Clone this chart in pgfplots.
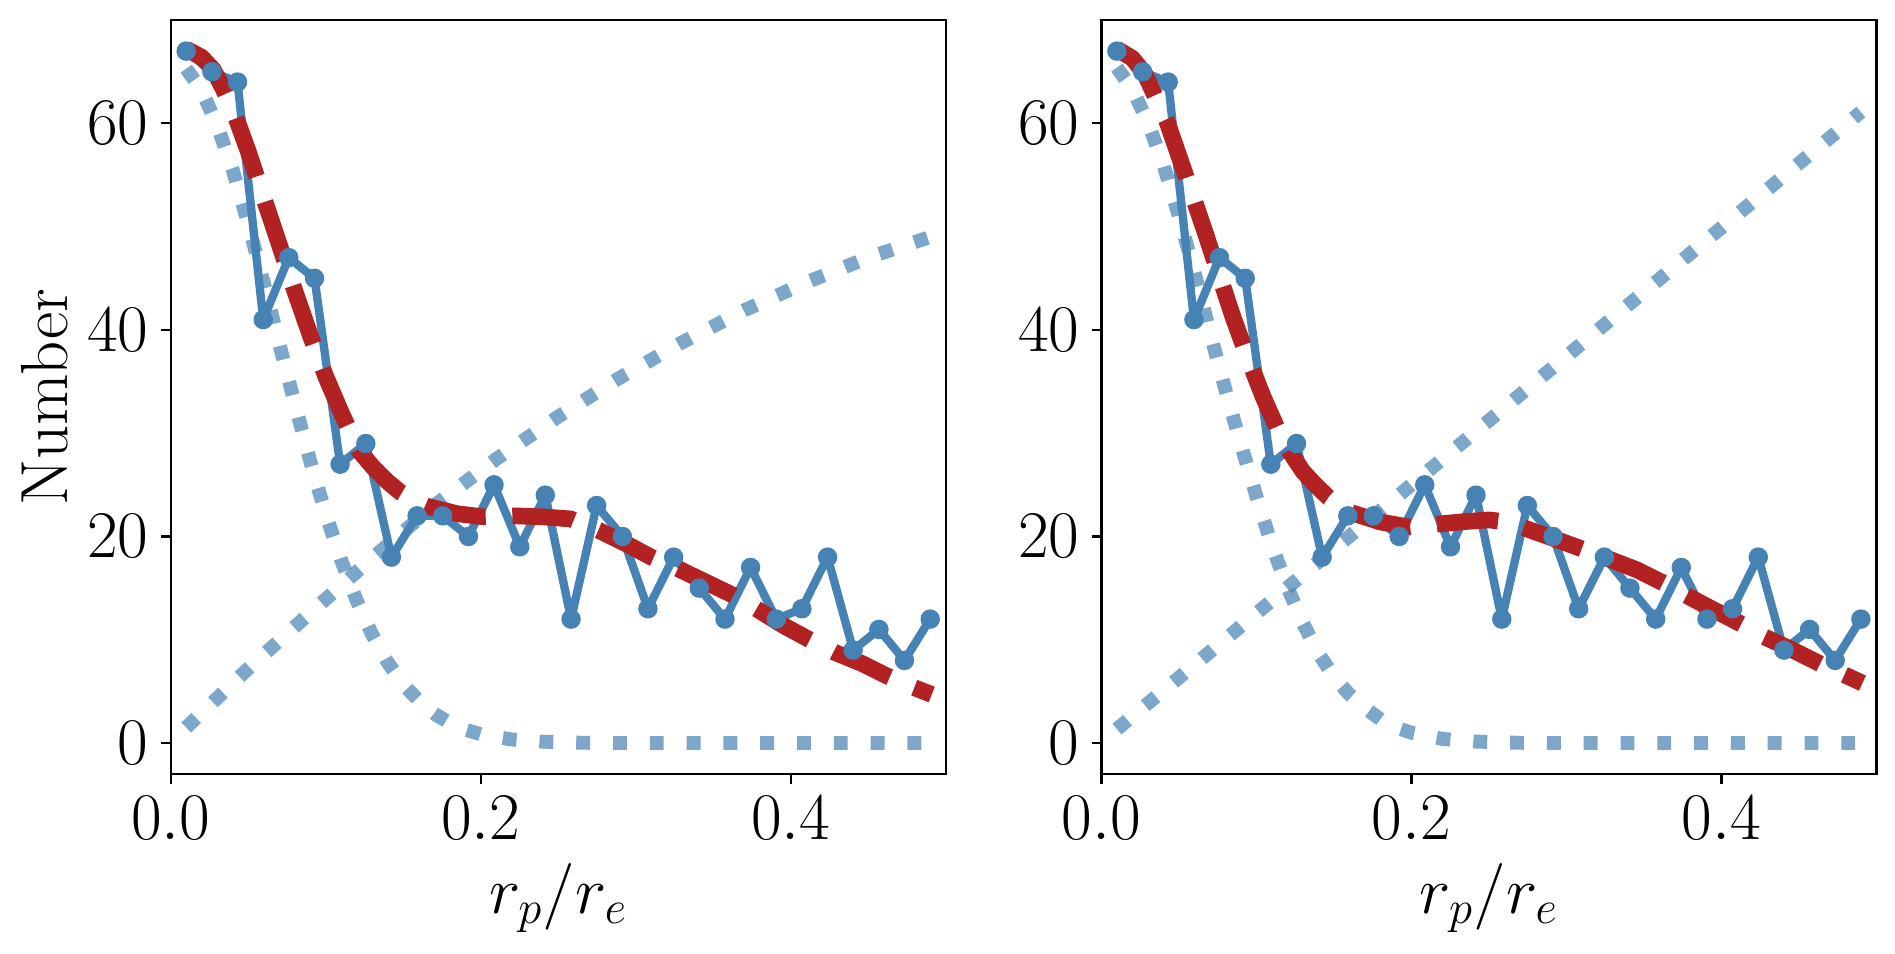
\RequirePackage{fix-cm}
\documentclass[border=0pt]{standalone}
\usepackage{pgfplots}
\usepackage{pgfplotstable}
\pgfplotsset{compat=1.18}

\definecolor{steel}{RGB}{70,130,180}
\definecolor{fire}{RGB}{178,34,34}

% counts per bin (same data in both panels)
\pgfplotstableread{
x      y
0.0100 67
0.0266 65
0.0431 64
0.0597 41
0.0762 47
0.0928 45
0.1093 27
0.1259 29
0.1424 18
0.1590 22
0.1755 22
0.1921 20
0.2086 25
0.2252 19
0.2417 24
0.2583 12
0.2748 23
0.2914 20
0.3079 13
0.3245 18
0.3410 15
0.3576 12
0.3741 17
0.3907 12
0.4072 13
0.4238 18
0.4403 9
0.4569 11
0.4734 8
0.4900 12
}\counts

% left panel: fitted total (red) and the two components (dotted)
\pgfplotstableread{
x     y
0.010 67.2
0.020 66.4
0.0275 65.2
0.034 63.3
0.042 60.6
0.050 57.3
0.060 52.8
0.070 48.3
0.080 43.8
0.090 39.5
0.100 35.5
0.110 32.0
0.121 28.4
0.130 26.8
0.140 25.3
0.148 24.3
0.157 23.5
0.166 22.9
0.185 22.2
0.202 21.9
0.222 22.0
0.240 21.9
0.258 21.7
0.276 20.6
0.295 19.2
0.310 18.0
0.327 16.9
0.345 15.6
0.363 14.3
0.380 12.8
0.395 11.4
0.411 10.1
0.428 8.8
0.446 7.7
0.462 6.5
0.479 5.4
0.491 4.7
}\fitA

\pgfplotstableread{
x    y
0.01 65.3
0.02 63.2
0.03 59.8
0.04 55.5
0.05 50.3
0.06 44.6
0.07 38.7
0.08 32.9
0.09 27.3
0.10 22.2
0.11 17.7
0.12 13.8
0.13 10.5
0.14 7.8
0.15 5.7
0.16 4.1
0.17 2.85
0.18 1.95
0.19 1.3
0.20 0.85
0.22 0.34
0.24 0.13
0.26 0.04
0.28 0.0
0.49 0.0
}\decA

\pgfplotstableread{
x    y
0.01 1.5
0.05 7.2
0.09 12.6
0.13 17.9
0.17 23.0
0.21 27.5
0.25 31.6
0.29 35.4
0.33 38.8
0.37 41.9
0.41 44.6
0.45 47.0
0.49 49.0
}\risA

% right panel
\pgfplotstableread{
x     y
0.010 67.2
0.020 66.3
0.028 64.8
0.0345 62.7
0.042 60.3
0.0485 57.5
0.0575 53.6
0.0668 49.5
0.076 45.3
0.085 41.2
0.095 37.1
0.1044 33.5
0.113 30.6
0.1216 28.2
0.130 26.3
0.138 25.0
0.1463 23.8
0.1614 22.3
0.180 21.4
0.199 20.9
0.2173 21.2
0.235 21.45
0.250 21.6
0.262 21.4
0.2732 20.8
0.290 19.9
0.310 18.8
0.326 17.9
0.345 16.8
0.3625 15.5
0.376 14.4
0.395 12.9
0.413 11.5
0.4274 10.3
0.446 9.0
0.4646 7.6
0.478 6.7
0.491 5.8
}\fitB

\pgfplotstableread{
x    y
0.01 65.4
0.02 63.3
0.03 60.1
0.04 56.0
0.05 51.0
0.06 45.6
0.07 39.8
0.08 34.2
0.09 28.9
0.10 23.9
0.11 19.1
0.12 15.1
0.13 11.6
0.14 8.7
0.15 6.4
0.16 4.7
0.17 3.4
0.18 2.3
0.19 1.5
0.20 1.0
0.22 0.4
0.24 0.15
0.26 0.05
0.28 0.0
0.49 0.0
}\decB

\pgfplotstableread{
x    y
0.01 1.35
0.49 61.1
}\risB

\pgfplotsset{
  panel/.style={
    scale only axis, width=279pt, height=271.4pt,
    anchor=south west,
    xmin=0, xmax=0.5, ymin=-3, ymax=70,
    xtick={0,0.2,0.4}, xticklabels={$0.0$,$0.2$,$0.4$},
    ytick={0,20,40,60},
    xtick pos=left, ytick pos=left,
    tick align=outside, major tick length=3.5pt,
    every tick/.style={black, line width=0.8pt},
    axis line style={line width=0.8pt},
    xticklabel style={anchor=north, inner sep=0pt, yshift=-4.5pt},
    yticklabel style={anchor=east, inner sep=0pt, xshift=-4.3pt},
    xlabel={$r_p/r_e$},
    xlabel style={at={(axis description cs:0.5,-0.1847)}, anchor=base, inner sep=0pt},
  },
  dotcurve/.style={steel, opacity=0.7, line width=5pt, dash pattern=on 5pt off 8.25pt, line cap=butt, no marks},
  datacurve/.style={steel, line width=3pt, line join=round, mark=*, mark size=3pt,
    mark options={solid, line width=1pt, fill=steel, draw=steel}},
  fitcurve/.style={fire, line width=6pt, dash pattern=on 22.2pt off 9.6pt, line cap=butt, line join=round, no marks},
}

\begin{document}
\fontsize{24}{29}\selectfont
\begin{tikzpicture}
\begin{axis}[panel, at={(61.45pt,64.44pt)},
  ylabel={Number},
  ylabel style={at={(axis description cs:-0.1622,0.5)}, anchor=center, inner sep=0pt}]
\addplot[dotcurve] table {\decA};
\addplot[dotcurve] table {\risA};
\addplot[datacurve] table {\counts};
\addplot[fitcurve] table {\fitA};
\end{axis}

\begin{axis}[panel, at={(396.5pt,64.44pt)}]
\addplot[dotcurve] table {\decB};
\addplot[dotcurve] table {\risB};
\addplot[datacurve] table {\counts};
\addplot[fitcurve] table {\fitB};
\end{axis}

\pgfresetboundingbox
\path (0,0) rectangle (682.2pt,343.08pt);
\end{tikzpicture}
\end{document}
